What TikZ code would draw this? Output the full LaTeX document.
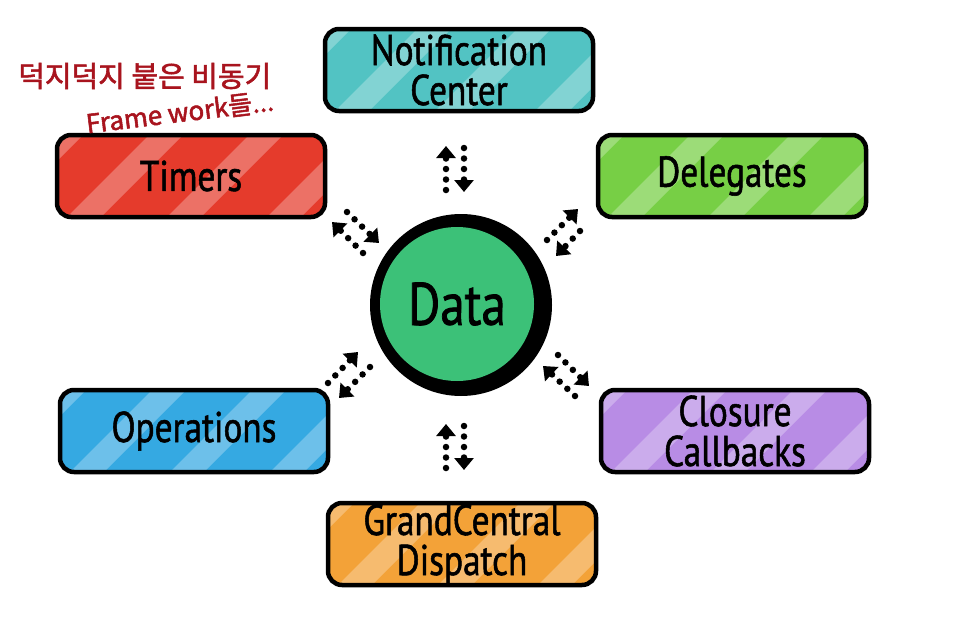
\documentclass[tikz,border=0pt]{standalone}
\usepackage{fontspec}
\setmainfont[FakeStretch=0.82,FakeBold=1.2]{PT Sans}
\newfontfamily\kr[FakeBold=2]{Noto Sans CJK KR}
\usetikzlibrary{arrows.meta}
\definecolor{cTeal}{HTML}{52C3C3}
\definecolor{cRed}{HTML}{E53B2C}
\definecolor{cGreen}{HTML}{77CF45}
\definecolor{cBlue}{HTML}{35A9E2}
\definecolor{cPurple}{HTML}{B88CE5}
\definecolor{cOrange}{HTML}{F3A238}
\definecolor{cData}{HTML}{3CC178}
\definecolor{cNote}{HTML}{A8141E}
\begin{document}
\begin{tikzpicture}[x=1pt,y=-1pt,
  stripes/.style={path picture={
    \foreach \s in {-90,10,110,210}{
      \fill[white,opacity=0.28,sharp corners]
        ([xshift=\s pt]path picture bounding box.south west)
        -- ++(34pt,0pt) -- ++(100pt,100pt) -- ++(-34pt,0pt) -- cycle;}}},
  box/.style={draw=black, line width=4.5pt, rounded corners=14pt,
    minimum width=268pt, minimum height=82pt, inner sep=0pt, align=center,
    font=\fontsize{43}{40}\selectfont, stripes},
  arr/.style={line width=6.5pt, line cap=round, dash pattern=on 0pt off 10.5pt,
    -{Triangle[width=19pt,length=12pt]}},
  note/.style={text=cNote, inner sep=0pt}
]
\useasboundingbox (0,0) rectangle (969,616);

% boxes
\node[box, fill=cTeal]   (nc)  at (459,70)  {Notification\\Center};
\node[box, fill=cRed]    (tim) at (191,176) {Timers};
\node[box, fill=cGreen]  (del) at (732,176) {Delegates};
\node[box, fill=cBlue]   (ops) at (194,431) {Operations};
\node[box, fill=cPurple] (clo) at (735,431) {Closure\\Callbacks};
\node[box, fill=cOrange] (gcd) at (462,544) {GrandCentral\\Dispatch};

% data circle
\node[circle, fill=black, minimum size=182pt, inner sep=0pt] (ring) at (461,305) {};
\node[circle, fill=cData, minimum size=154pt, inner sep=0pt,
      font=\fontsize{60}{60}\selectfont] (data) at (457,304) {Data};

% arrow end coordinates
\coordinate (ncUpA) at (446,190); \coordinate (ncUpB) at (446,146);
\coordinate (ncDnA) at (464,148); \coordinate (ncDnB) at (464,192);
\coordinate (gcUpA) at (446,468); \coordinate (gcUpB) at (446,424);
\coordinate (gcDnA) at (464,426); \coordinate (gcDnB) at (464,470);
\coordinate (tiA) at (363,253); \coordinate (tiB) at (332,222);
\coordinate (tiC) at (347,212); \coordinate (tiD) at (379,243);
\coordinate (deA) at (547,240); \coordinate (deB) at (578,209);
\coordinate (deC) at (580,231); \coordinate (deD) at (556,256);
\coordinate (opA) at (328,383); \coordinate (opB) at (358,352);
\coordinate (opC) at (370,367); \coordinate (opD) at (339,398);
\coordinate (clA) at (575,396); \coordinate (clB) at (543,366);
\coordinate (clC) at (558,355); \coordinate (clD) at (589,386);

\draw[arr] (ncUpA) -- (ncUpB);
\draw[arr] (ncDnA) -- (ncDnB);
\draw[arr] (gcUpA) -- (gcUpB);
\draw[arr] (gcDnA) -- (gcDnB);
\draw[arr] (tiA) -- (tiB);
\draw[arr] (tiC) -- (tiD);
\draw[arr] (deA) -- (deB);
\draw[arr] (deC) -- (deD);
\draw[arr] (opA) -- (opB);
\draw[arr] (opC) -- (opD);
\draw[arr] (clA) -- (clB);
\draw[arr] (clC) -- (clD);

% handwritten note
\node[note, anchor=west, font=\kr\fontsize{29}{31}\selectfont] (note1) at (18,76) {덕지덕지 붙은 비동기};
\node[note, anchor=west, rotate=7, font=\kr\fontsize{26}{28}\selectfont] (note2) at (86,124) {Frame work들...};
\end{tikzpicture}
\end{document}
